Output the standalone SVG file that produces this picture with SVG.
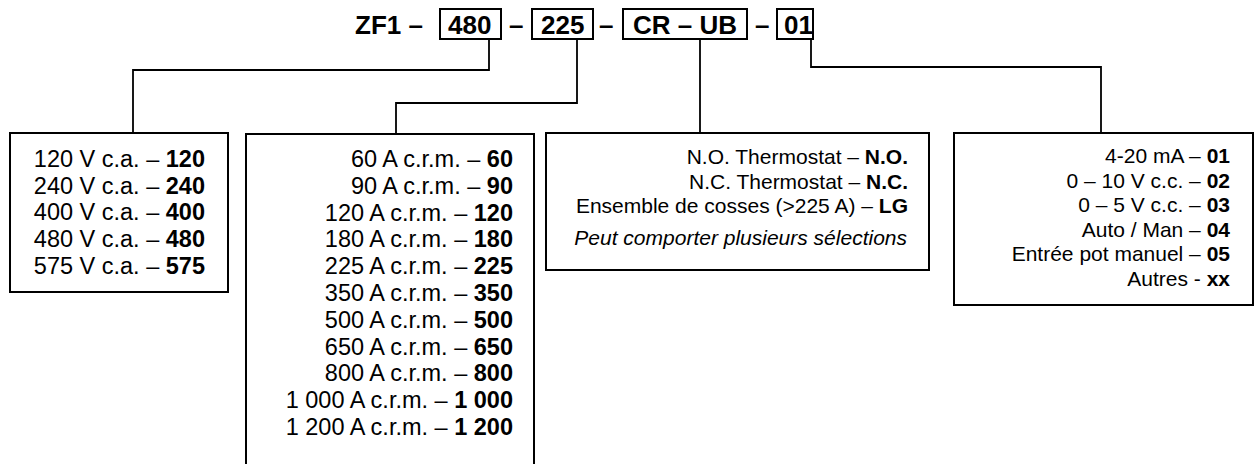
<svg xmlns="http://www.w3.org/2000/svg" width="1254" height="464" viewBox="0 0 1254 464">
<style>
text{font-family:"Liberation Sans",Arial,sans-serif;fill:#000}
.t{font-size:26px;font-weight:bold}
.a{font-size:23.5px;text-anchor:end}
.b{font-size:21px;text-anchor:end}
.i{font-style:italic}
.bx{fill:#fff;stroke:#000;stroke-width:2}
.cn{fill:none;stroke:#000;stroke-width:1.8}
tspan.k{font-weight:bold}
</style>
<rect width="1254" height="464" fill="#fff"/>
<g id="title">
<text class="t" x="355" y="34">ZF1 –</text>
<rect class="bx" x="440" y="9" width="61" height="30"/>
<text class="t" x="448" y="34">480</text>
<text class="t" x="509" y="34">–</text>
<rect class="bx" x="532" y="9" width="61" height="30"/>
<text class="t" x="541" y="34">225</text>
<text class="t" x="599" y="34">–</text>
<rect class="bx" x="623" y="9" width="124" height="30"/>
<text class="t" x="633" y="34">CR – UB</text>
<text class="t" x="755" y="34">–</text>
<rect class="bx" x="777" y="9" width="36" height="30"/>
<text class="t" x="784" y="34">01</text>
</g>
<g id="connectors">
<polyline class="cn" points="489,39 489,70 133,70 133,133"/>
<polyline class="cn" points="577,39 577,103 396,103 396,134"/>
<polyline class="cn" points="700,39 700,133"/>
<polyline class="cn" points="811,39 811,67 1101,67 1101,133"/>
</g>
<g id="voltage">
<rect class="bx" x="10" y="133" width="218" height="159"/>
<text class="a" x="205" y="167">120 V c.a. – <tspan class="k">120</tspan></text>
<text class="a" x="205" y="193.7">240 V c.a. – <tspan class="k">240</tspan></text>
<text class="a" x="205" y="220.4">400 V c.a. – <tspan class="k">400</tspan></text>
<text class="a" x="205" y="247">480 V c.a. – <tspan class="k">480</tspan></text>
<text class="a" x="205" y="273.7">575 V c.a. – <tspan class="k">575</tspan></text>
</g>
<g id="current">
<rect class="bx" x="246" y="134" width="288" height="340"/>
<text class="a" x="513" y="167">60 A c.r.m. – <tspan class="k">60</tspan></text>
<text class="a" x="513" y="193.8">90 A c.r.m. – <tspan class="k">90</tspan></text>
<text class="a" x="513" y="220.6">120 A c.r.m. – <tspan class="k">120</tspan></text>
<text class="a" x="513" y="247.4">180 A c.r.m. – <tspan class="k">180</tspan></text>
<text class="a" x="513" y="274.2">225 A c.r.m. – <tspan class="k">225</tspan></text>
<text class="a" x="513" y="301">350 A c.r.m. – <tspan class="k">350</tspan></text>
<text class="a" x="513" y="327.8">500 A c.r.m. – <tspan class="k">500</tspan></text>
<text class="a" x="513" y="354.6">650 A c.r.m. – <tspan class="k">650</tspan></text>
<text class="a" x="513" y="381.4">800 A c.r.m. – <tspan class="k">800</tspan></text>
<text class="a" x="513" y="408.2">1 000 A c.r.m. – <tspan class="k">1 000</tspan></text>
<text class="a" x="513" y="435">1 200 A c.r.m. – <tspan class="k">1 200</tspan></text>
</g>
<g id="options">
<rect class="bx" x="546" y="133" width="383" height="137"/>
<text class="b" x="908" y="164">N.O. Thermostat – <tspan class="k">N.O.</tspan></text>
<text class="b" x="908" y="188.5">N.C. Thermostat – <tspan class="k">N.C.</tspan></text>
<text class="b" x="908" y="213">Ensemble de cosses (&gt;225 A) – <tspan class="k">LG</tspan></text>
<text class="b i" x="907" y="245">Peut comporter plusieurs sélections</text>
</g>
<g id="control">
<rect class="bx" x="954" y="133" width="299" height="172"/>
<text class="b" x="1230" y="163">4-20 mA – <tspan class="k">01</tspan></text>
<text class="b" x="1230" y="187.5">0 – 10 V c.c. – <tspan class="k">02</tspan></text>
<text class="b" x="1230" y="212">0 – 5 V c.c. – <tspan class="k">03</tspan></text>
<text class="b" x="1230" y="236.5">Auto / Man – <tspan class="k">04</tspan></text>
<text class="b" x="1230" y="261">Entrée pot manuel – <tspan class="k">05</tspan></text>
<text class="b" x="1230" y="285.5">Autres - <tspan class="k">xx</tspan></text>
</g>
</svg>
